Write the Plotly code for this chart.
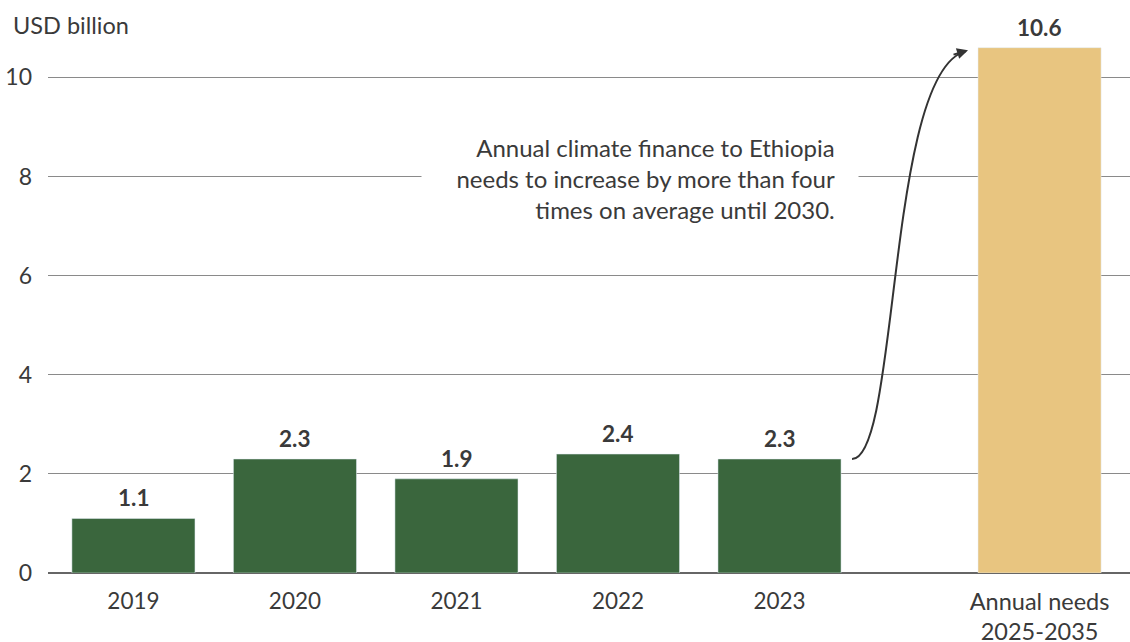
import plotly.graph_objects as go

# ---- data ----
years = ["2019", "2020", "2021", "2022", "2023"]
finance = [1.1, 2.3, 1.9, 2.4, 2.3]
needs_label = ["Annual needs<br>2025-2035"]
needs = [10.6]
y_ticks = [0, 2, 4, 6, 8, 10]
unit_label = "USD billion"
note = "Annual climate finance to Ethiopia<br>needs to increase by more than four<br>times on average until 2030."

# ---- style ----
FONT = "Lato"
TXT = "#3a3a3a"
GREEN = "#3a663d"
GOLD = "#e8c580"
BAR_W = 0.762

fig = go.Figure()
fig.add_trace(go.Bar(x=years, y=finance, marker_color=GREEN, width=BAR_W,
                     xaxis="x", yaxis="y", hoverinfo="skip"))
fig.add_trace(go.Bar(x=needs_label, y=needs, marker_color=GOLD, width=BAR_W,
                     xaxis="x2", yaxis="y", hoverinfo="skip"))

ann = []
for i, yv in enumerate(finance):
    ann.append(dict(x=i, y=yv, xref="x", yref="y", text=f"<b>{yv}</b>", showarrow=False,
                    yanchor="bottom", yshift=5, font=dict(size=22.5, color=TXT, family=FONT)))
for i, yv in enumerate(needs):
    ann.append(dict(x=i, y=yv, xref="x2", yref="y", text=f"<b>{yv}</b>", showarrow=False,
                    yanchor="bottom", yshift=5, font=dict(size=22.5, color=TXT, family=FONT)))

ann.append(dict(x=0, y=1, xref="paper", yref="paper", xanchor="left", yanchor="middle",
                xshift=-37, yshift=-17, text=unit_label, showarrow=False,
                font=dict(size=23.5, color=TXT, family=FONT)))

ann.append(dict(x=0.7495, y=7.95, xref="paper", yref="y", xanchor="right", yanchor="middle",
                text=note, showarrow=False, align="right", bgcolor="white",
                borderpad=23, width=390,
                font=dict(size=24, color=TXT, family=FONT)))

# arrow head at end of curved connector
start_y = finance[-1]
end_y = needs[0] - 0.05
ann.append(dict(x=0.8503, y=end_y, xref="paper", yref="y", ax=-16, ay=5,
                axref="pixel", ayref="pixel", text="", showarrow=True,
                arrowhead=2, arrowsize=1.1, arrowwidth=2, arrowcolor="#333333"))

shapes = [dict(type="path", xref="paper", yref="y",
               path=f"M 0.7431 {start_y} C 0.7870 {start_y} 0.7750 10.15 0.8485 {end_y - 0.02}",
               line=dict(color="#333333", width=2))]

fig.update_layout(
    width=1130, height=642,
    margin=dict(l=48, r=0, t=8, b=69),
    plot_bgcolor="white", paper_bgcolor="white",
    showlegend=False,
    font=dict(family=FONT, color=TXT, size=22),
    xaxis=dict(type="category", range=[-0.529, 6.170], domain=[0, 1], automargin=False,
               showgrid=False, showline=False, zeroline=False,
               ticks="", ticklabelstandoff=12, tickfont=dict(size=22.5, color=TXT)),
    xaxis2=dict(type="category", range=[-6.139, 0.560], overlaying="x", anchor="y", side="bottom",
                automargin=False, showgrid=False, showline=False, zeroline=False,
                ticks="", ticklabelstandoff=12, tickfont=dict(size=23.5, color=TXT)),
    yaxis=dict(range=[0, 11.4], tickvals=y_ticks, showgrid=True, gridcolor="#8a8a8a", gridwidth=1,
               zeroline=True, zerolinecolor="#666666", zerolinewidth=1.5, automargin=False,
               showline=False, ticks="", ticklabelstandoff=15,
               tickfont=dict(size=23, color=TXT)),
    annotations=ann,
    shapes=shapes,
)

fig.write_html("out.html")
